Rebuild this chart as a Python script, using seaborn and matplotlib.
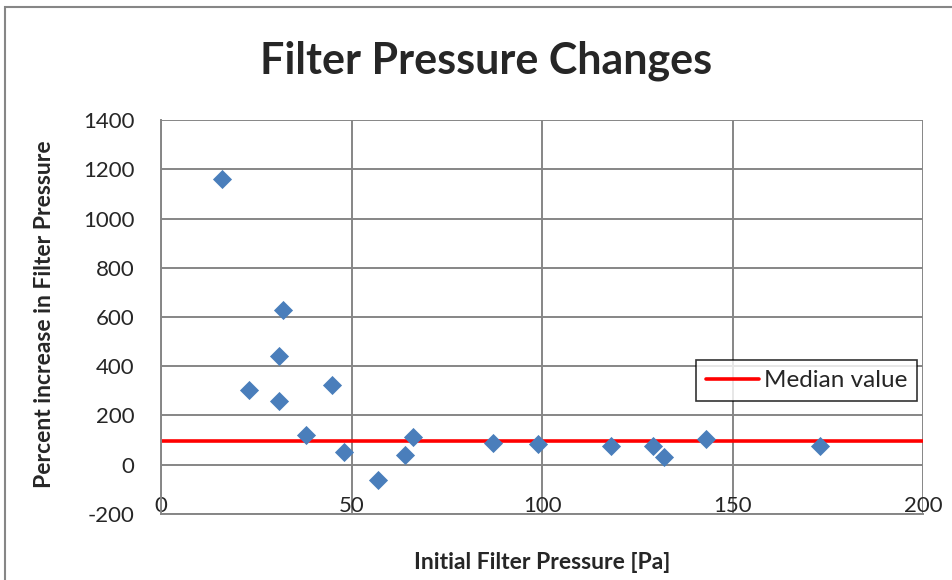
import matplotlib.pyplot as plt
import matplotlib.patches as mpatches
import seaborn as sns
import pandas as pd

# values
initial_pressure = [16, 23, 31, 31, 32, 38, 45, 48, 57, 64, 66, 87, 99, 118, 129, 132, 143, 173]
percent_increase = [1160, 305, 442, 260, 628, 120, 325, 50, -61, 39, 111, 90, 85, 77, 77, 32, 103, 74]
median_value = 96

x_ticks = [0, 50, 100, 150, 200]
y_ticks = [-200, 0, 200, 400, 600, 800, 1000, 1200, 1400]

sns.set_style("white")
plt.rcParams['font.family'] = ['Lato', 'DejaVu Sans']
plt.rcParams['axes.unicode_minus'] = False

df = pd.DataFrame({'pressure': initial_pressure, 'increase': percent_increase})

fig = plt.figure(figsize=(9.52, 5.8), dpi=100)
ax = fig.add_axes([0.169, 0.114, 0.801, 0.679])

ax.grid(True, color='#868686', linewidth=1.4)
ax.set_axisbelow(True)

sns.scatterplot(data=df, x='pressure', y='increase', marker='D', s=95,
                color='#4A7EBB', edgecolor='#4A7EBB', linewidth=0, ax=ax, zorder=3)
ax.axhline(median_value, color='#FF0000', linewidth=2.6, label='Median value', zorder=2)

ax.set_xlim(0, 200)
ax.set_ylim(-200, 1400)
ax.set_xticks(x_ticks)
ax.set_yticks(y_ticks)
ax.tick_params(axis='x', labelsize=16, pad=-1, length=0)
ax.tick_params(axis='y', labelsize=16, pad=19, length=0)
for lbl in ax.get_xticklabels():
    lbl.set_verticalalignment('baseline')
for side in ['top', 'right']:
    ax.spines[side].set_visible(False)
for side in ['left', 'bottom']:
    ax.spines[side].set_color('#868686')
    ax.spines[side].set_linewidth(1.4)

ax.set_xlabel('')
ax.set_ylabel('')
fig.text(0.511, 0.895, 'Filter Pressure Changes', fontsize=31, fontweight='bold',
         ha='center', va='center')
fig.text(0.047, 0.459, 'Percent increase in Filter Pressure', fontsize=16.5,
         fontweight='bold', rotation=90, ha='center', va='center')
fig.text(0.569, 0.031, 'Initial Filter Pressure [Pa]', fontsize=16.5,
         fontweight='bold', ha='center', va='center')

leg = ax.legend(loc='upper right', bbox_to_anchor=(0.998, 0.402), fontsize=17.5,
                frameon=True, fancybox=False, handlelength=2.2, borderpad=0.4,
                handletextpad=0.2, borderaxespad=0.2)
leg.get_frame().set_edgecolor('black')
leg.get_frame().set_linewidth(1.2)

# outer chart border
fig.patches.append(mpatches.Rectangle((0.005, -0.02), 1.2, 1.008, transform=fig.transFigure,
                                      fill=False, edgecolor='#868686', linewidth=1.5))

fig.savefig('out.png', dpi=100)
